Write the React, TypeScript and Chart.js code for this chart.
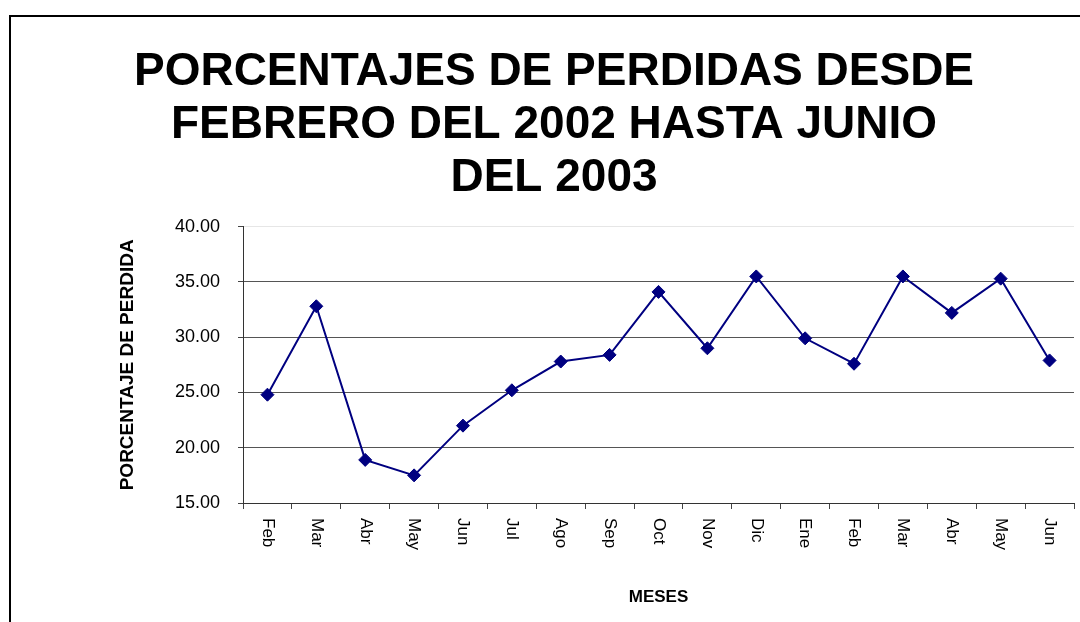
import React, { useEffect, useRef } from "react";
import { Chart, registerables } from "chart.js";

Chart.register(...registerables);

const titleLines = [
  "PORCENTAJES DE PERDIDAS DESDE",
  "FEBRERO DEL 2002 HASTA JUNIO",
  "DEL 2003",
];
const months = [
  "Feb", "Mar", "Abr", "May", "Jun", "Jul", "Ago", "Sep", "Oct",
  "Nov", "Dic", "Ene", "Feb", "Mar", "Abr", "May", "Jun",
];
const lossPct = [
  24.8, 32.8, 18.9, 17.5, 22.0, 25.2, 27.8, 28.4, 34.1,
  29.0, 35.5, 29.9, 27.6, 35.5, 32.2, 35.3, 27.9,
];
const yTitle = "PORCENTAJE DE PERDIDA";
const xTitle = "MESES";
const yMin = 15;
const yMax = 40;
const yStep = 5;

const FONT = "'Liberation Sans', Arial, sans-serif";

export default function App() {
  const canvasRef = useRef<HTMLCanvasElement | null>(null);

  useEffect(() => {
    const canvas = canvasRef.current;
    if (!canvas) return;

    const framePlugin = {
      id: "frame",
      beforeDraw(chart: any) {
        const ctx = chart.ctx;
        ctx.save();
        ctx.fillStyle = "#ffffff";
        ctx.fillRect(0, 0, chart.width, chart.height);
        ctx.strokeStyle = "#000000";
        ctx.lineWidth = 2;
        ctx.strokeRect(10, 16, chart.width + 50, chart.height + 50);
        ctx.restore();
      },
    };

    const xLabelPlugin = {
      id: "xLabels",
      afterDraw(chart: any) {
        const ctx = chart.ctx;
        const xs = chart.scales.x;
        ctx.save();
        ctx.fillStyle = "#000000";
        ctx.font = `17px ${FONT}`;
        ctx.textAlign = "left";
        ctx.textBaseline = "middle";
        months.forEach((m, i) => {
          const x = xs.getPixelForTick(i);
          ctx.save();
          ctx.translate(x, xs.top + 15);
          ctx.rotate(Math.PI / 2);
          ctx.fillText(m, 0, 0);
          ctx.restore();
        });
        ctx.restore();
      },
    };

    const chart = new Chart(canvas, {
      type: "line",
      data: {
        labels: months,
        datasets: [
          {
            data: lossPct,
            borderColor: "#000080",
            backgroundColor: "#000080",
            borderWidth: 2,
            pointStyle: "rectRot",
            pointRadius: 6.5,
            pointBorderWidth: 1,
            pointBackgroundColor: "#000080",
            pointBorderColor: "#000080",
            tension: 0,
          },
        ],
      },
      options: {
        responsive: false,
        animation: false,
        devicePixelRatio: 1,
        layout: { padding: { left: 34, right: 34, top: 0, bottom: 0 } },
        plugins: {
          legend: { display: false },
          tooltip: { enabled: false },
          title: {
            display: true,
            text: titleLines,
            color: "#000000",
            font: { family: FONT, size: 46, weight: "bold", lineHeight: 1.15 },
            padding: { top: 46, bottom: 22 },
          },
        },
        scales: {
          x: {
            type: "category",
            offset: true,
            grid: {
              offset: true,
              drawOnChartArea: false,
              drawTicks: true,
              tickLength: 6,
              tickColor: "#444444",
              color: "#444444",
            },
            border: { color: "#333333", width: 1 },
            ticks: {
              color: "rgba(0,0,0,0)",
              autoSkip: false,
              maxRotation: 0,
              minRotation: 0,
              font: { family: FONT, size: 17 },
            },
            title: {
              display: true,
              text: xTitle,
              color: "#000000",
              font: { family: FONT, size: 17, weight: "bold", lineHeight: 1.2 },
              padding: { top: 0, bottom: 14.8 },
            },
            afterFit(scale: any) {
              scale.height = 119;
            },
          },
          y: {
            min: yMin,
            max: yMax,
            grid: {
              color: (c: any) => (c.tick && c.tick.value === yMax ? "#e6e6e6" : "#555555"),
              tickColor: "#444444",
              tickLength: 5,
              lineWidth: 1,
            },
            border: { color: "#333333", width: 1 },
            ticks: {
              stepSize: yStep,
              color: "#000000",
              padding: 18,
              font: { family: FONT, size: 18 },
              callback: (v: any) => Number(v).toFixed(2),
            },
            title: {
              display: true,
              text: yTitle,
              color: "#000000",
              font: { family: FONT, size: 19, weight: "bold", lineHeight: 1.2 },
              padding: { top: 82.6, bottom: 0 },
            },
            afterFit(scale: any) {
              scale.width = 209;
            },
          },
        },
      },
      plugins: [framePlugin, xLabelPlugin],
    });

    return () => chart.destroy();
  }, []);

  return (
    <div
      style={{
        position: "fixed",
        left: 0,
        top: 0,
        width: 1080,
        height: 622,
        overflow: "hidden",
        background: "#ffffff",
      }}
    >
      <canvas
        ref={canvasRef}
        width={1108}
        height={622}
        style={{ display: "block", width: 1108, height: 622 }}
      />
    </div>
  );
}
